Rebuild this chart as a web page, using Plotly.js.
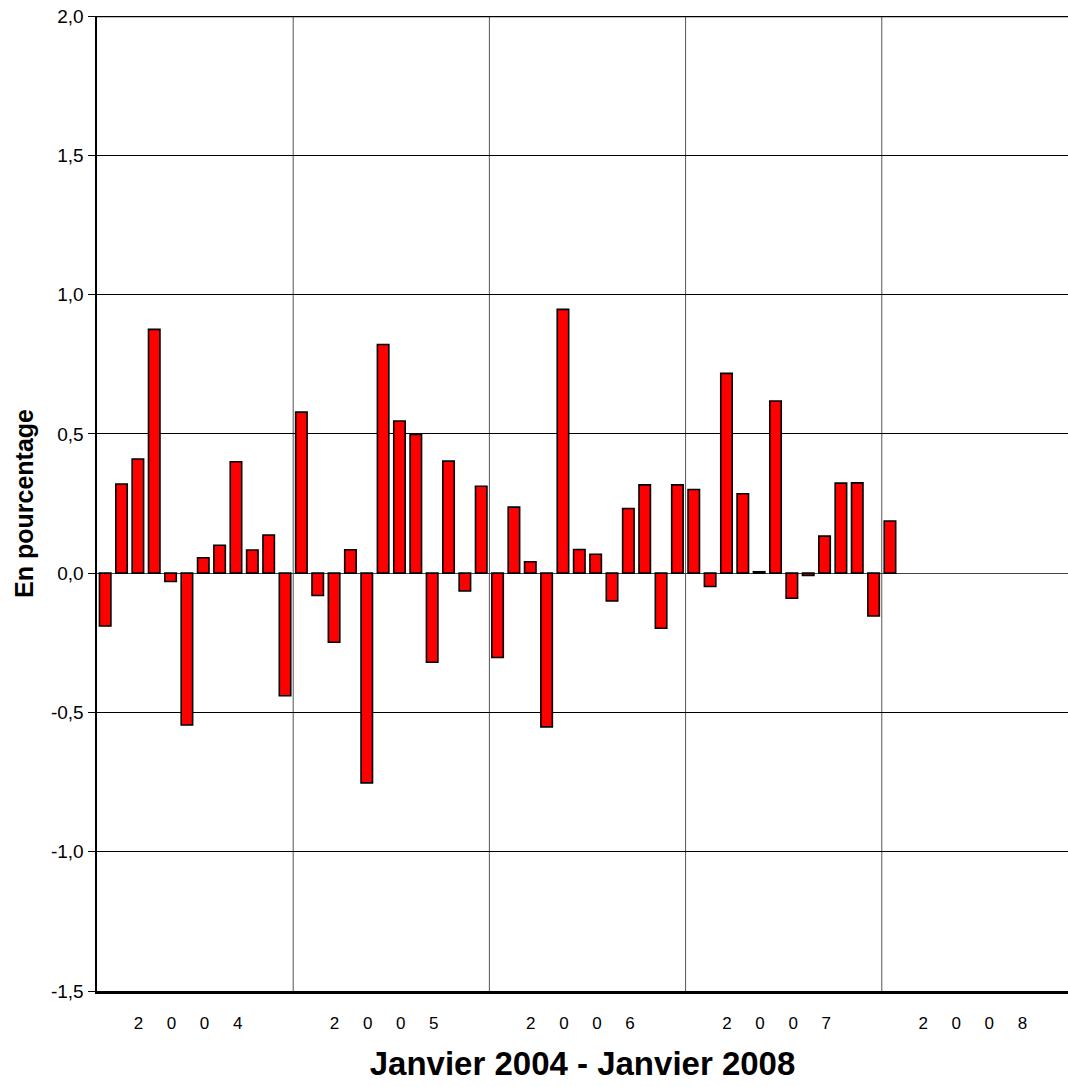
<!DOCTYPE html>
<html>
<head>
<meta charset="utf-8">
<script src="https://cdn.plot.ly/plotly-3.0.1.min.js"></script>
<style>html,body{margin:0;padding:0;background:#fff;}#chart{width:1068px;height:1087px;}</style>
</head>
<body>
<div id="chart"></div>
<script>
// Monthly change, in percent (Jan 2004 - Jan 2008)
const values2004 = [-0.19, 0.32, 0.41, 0.875, -0.03, -0.545, 0.055, 0.10, 0.40, 0.083, 0.137, -0.44];
const values2005 = [0.578, -0.08, -0.248, 0.084, -0.753, 0.821, 0.546, 0.498, -0.32, 0.402, -0.064, 0.312];
const values2006 = [-0.303, 0.237, 0.041, -0.552, 0.947, 0.085, 0.068, -0.10, 0.232, 0.317, -0.198, 0.317];
const values2007 = [0.30, -0.048, 0.717, 0.285, 0.005, 0.618, -0.09, -0.008, 0.133, 0.323, 0.324, -0.154];
const values2008 = [0.187];
const years = ["2004", "2005", "2006", "2007", "2008"];
const yTicks = [-1.5, -1.0, -0.5, 0.0, 0.5, 1.0, 1.5, 2.0];

const values = [].concat(values2004, values2005, values2006, values2007, values2008);
const months = values.map((v, i) => i + 1);

const NB = "\u00A0";
const gap = NB.repeat(5);
const yearText = years.map(y => y.split("").join(gap) + NB.repeat(3));
const yearVals = years.map((y, i) => i * 12 + 6.5);
const yTickText = yTicks.map(v => v.toFixed(1).replace(".", ","));

const shapes = years.slice(0, 4).map((y, i) => ({
  type: "line", xref: "x", yref: "y",
  x0: (i + 1) * 12 + 0.5, x1: (i + 1) * 12 + 0.5, y0: -1.5, y1: 2.0,
  line: {color: "#555555", width: 1}, layer: "below"
}));
shapes.push({type: "line", xref: "paper", yref: "y", x0: 0, x1: 1, y0: 2.0, y1: 2.0,
  line: {color: "#000000", width: 2.5}});

const trace = {
  type: "bar",
  x: months,
  y: values,
  width: 0.7,
  marker: {color: "#FF0000", line: {color: "#000000", width: 1.6}},
  hoverinfo: "skip"
};

const layout = {
  width: 1068, height: 1087,
  margin: {l: 97, r: 0, t: 16, b: 96, pad: 0},
  paper_bgcolor: "#ffffff", plot_bgcolor: "#ffffff",
  showlegend: false,
  font: {family: "Liberation Sans, Arial, sans-serif", color: "#000000"},
  xaxis: {
    range: [0.5, 59.89],
    tickmode: "array", tickvals: yearVals, ticktext: yearText,
    ticks: "outside", ticklen: 15, tickcolor: "rgba(0,0,0,0)",
    tickfont: {size: 17},
    showgrid: false, zeroline: false,
    showline: true, linecolor: "#000000", linewidth: 2.5,
    title: {text: "<b>Janvier 2004 - Janvier 2008</b>", font: {size: 33}, standoff: 20}
  },
  yaxis: {
    range: [-1.5, 2.0],
    tickmode: "array", tickvals: yTicks, ticktext: yTickText,
    ticks: "outside", ticklen: 7, tickcolor: "#000000", tickwidth: 1,
    tickfont: {size: 19},
    showgrid: true, gridcolor: "#000000", gridwidth: 1,
    zeroline: true, zerolinecolor: "#444444", zerolinewidth: 1,
    showline: true, linecolor: "#000000", linewidth: 2.5,
    title: {text: "<b>En pourcentage</b>", font: {size: 25}, standoff: 10}
  },
  shapes: shapes,
  bargap: 0.3
};

Plotly.newPlot("chart", [trace], layout, {displayModeBar: false, staticPlot: true});
</script>
</body>
</html>
